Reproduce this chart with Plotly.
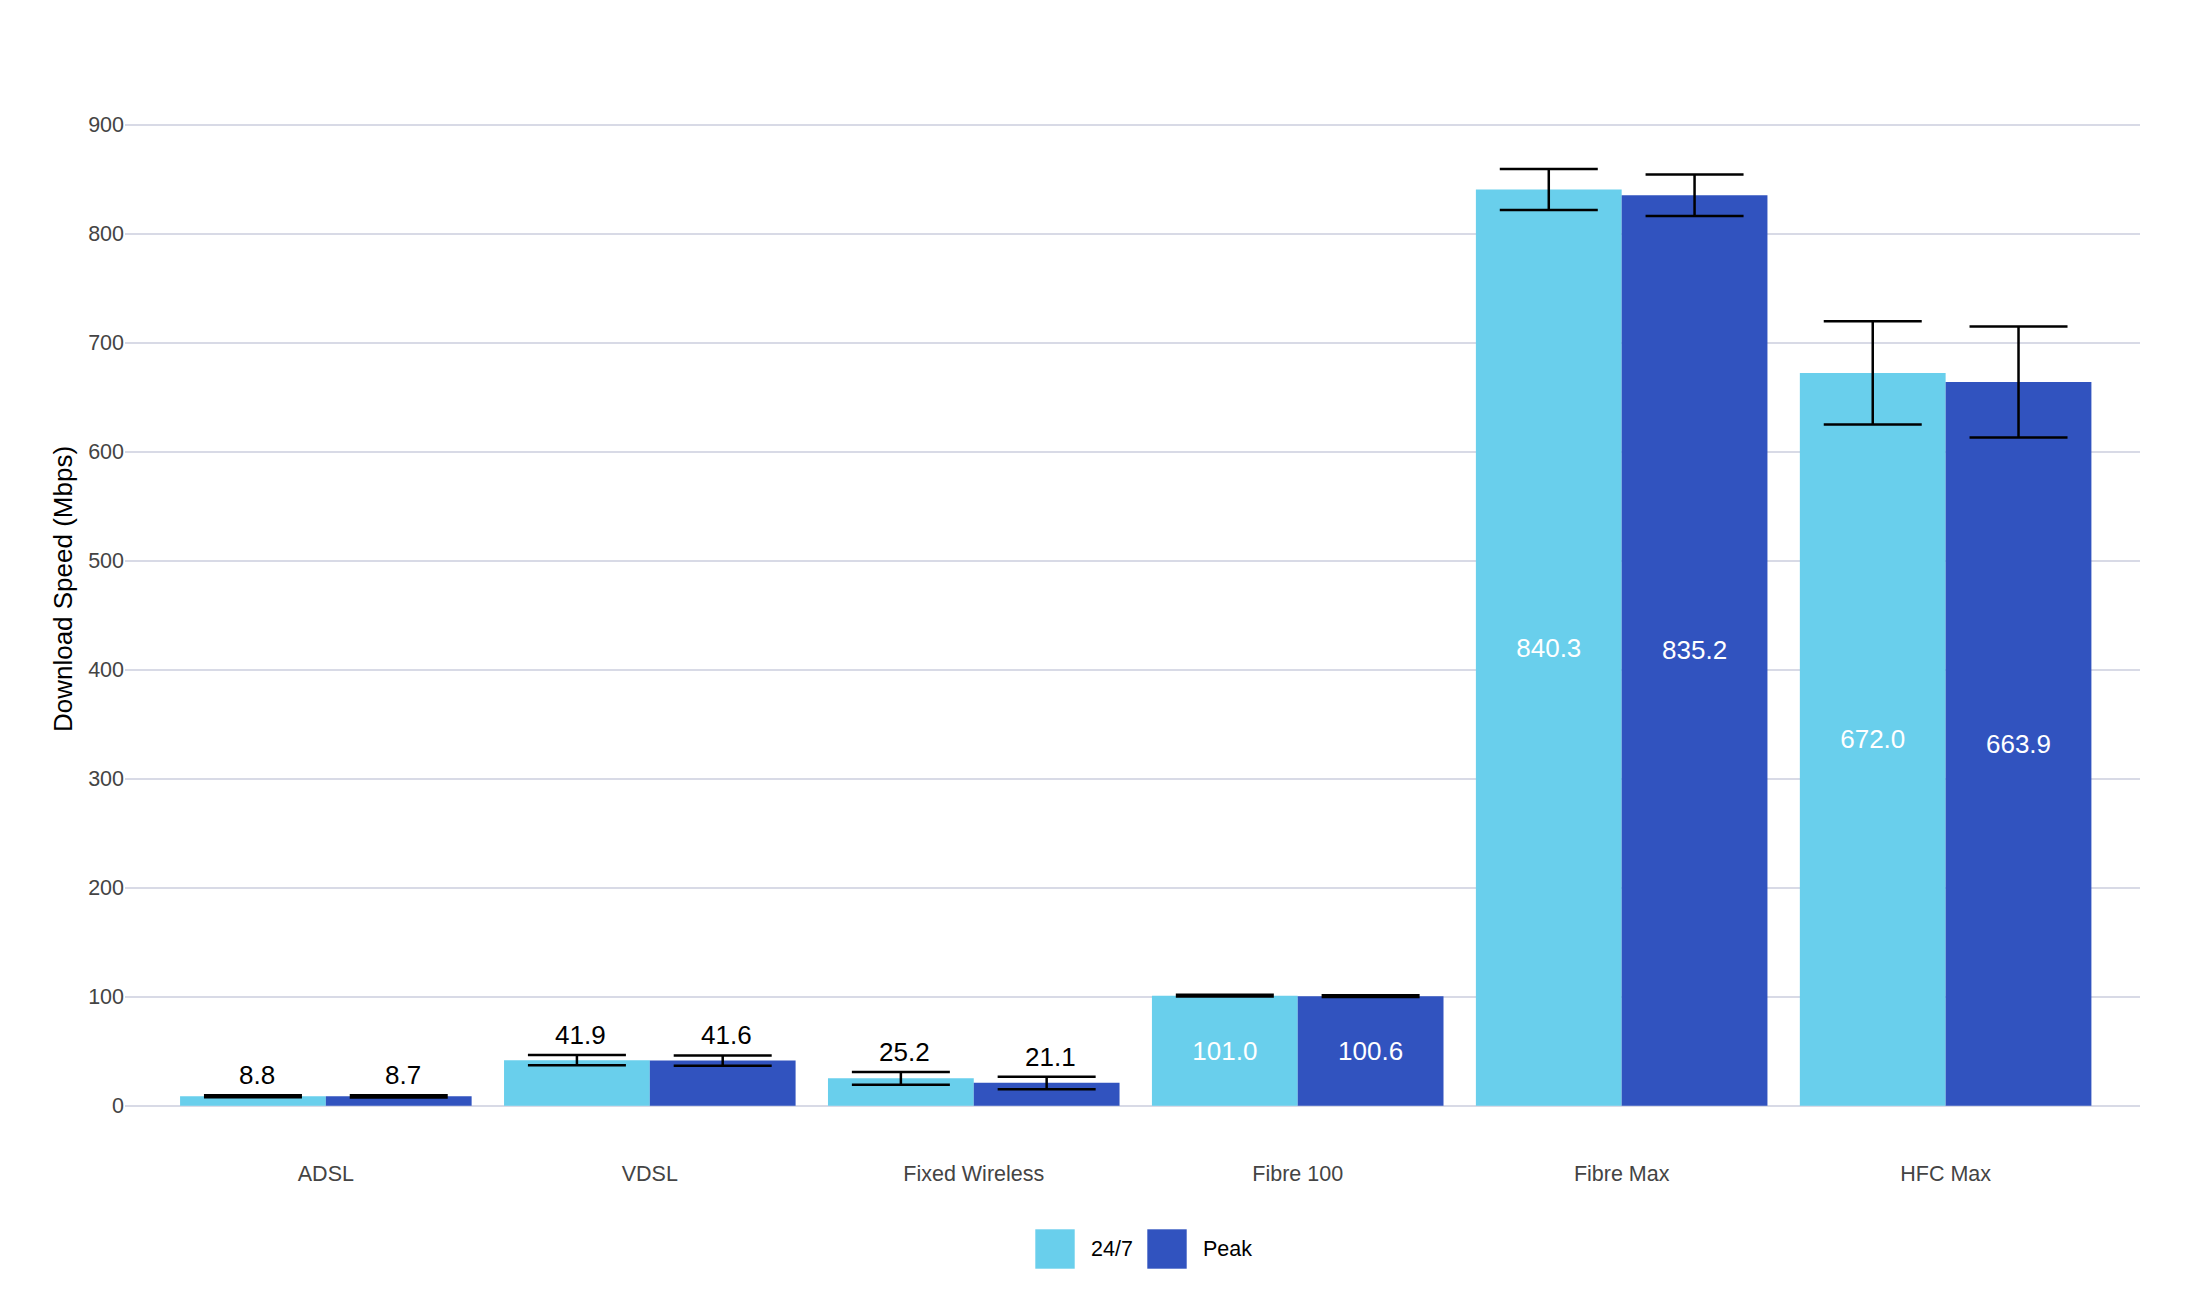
import plotly.graph_objects as go

categories = ["ADSL", "VDSL", "Fixed Wireless", "Fibre 100", "Fibre Max", "HFC Max"]
series_names = ["24/7", "Peak"]
values_247 = [8.8, 41.9, 25.2, 101.0, 840.3, 672.0]
values_peak = [8.7, 41.6, 21.1, 100.6, 835.2, 663.9]
err_up_247 = [1.0, 4.6, 5.8, 0.8, 18.8, 47.5]
err_down_247 = [1.0, 4.6, 5.9, 0.8, 18.8, 47.2]
err_up_peak = [1.0, 4.6, 5.5, 0.8, 18.9, 50.8]
err_down_peak = [1.0, 4.9, 5.8, 0.8, 19.2, 51.0]
y_ticks = [0, 100, 200, 300, 400, 500, 600, 700, 800, 900]

# styling / layout constants (page has an 8px body margin, compensated here)
W, H = 2210, 1300
M_L, M_R, M_T, M_B = 117, 78, 62, 200
X_RANGE = [-0.62, 5.6]
Y_RANGE = [-2, 950]
BARGAP = 0.1
INSIDE_MIN = 100  # labels for values at or above this go inside the bar
FONT = "Liberation Sans, Arial, Helvetica, sans-serif"
C_247 = "#69CFEC"
C_PEAK = "#3153BF"
GRID = "#D8DAE6"

series = [
    (series_names[0], values_247, err_up_247, err_down_247, C_247, -1),
    (series_names[1], values_peak, err_up_peak, err_down_peak, C_PEAK, 1),
]

plot_w = W - M_L - M_R
plot_h = H - M_T - M_B
step_px = plot_w / (X_RANGE[1] - X_RANGE[0])
bar_off_px = (1 - BARGAP) / 4 * step_px

fig = go.Figure()
annotations = []
for name, vals, eu, ed, color, side in series:
    inside_text = [f"{v:.1f}" if v >= INSIDE_MIN else "" for v in vals]
    fig.add_trace(go.Bar(
        name=name, x=categories, y=vals,
        marker=dict(color=color, line=dict(width=0)),
        text=inside_text, textposition="inside", insidetextanchor="middle",
        insidetextfont=dict(color="white", size=26, family=FONT),
        error_y=dict(type="data", array=eu, arrayminus=ed, visible=True,
                     color="black", thickness=2.5, width=49),
        showlegend=False,
    ))
    for c, v, u in zip(categories, vals, eu):
        if v < INSIDE_MIN:
            annotations.append(dict(
                x=c, y=v + u, xref="x", yref="y", text=f"{v:.1f}",
                showarrow=False, yanchor="bottom", xanchor="center",
                xshift=side * bar_off_px + 4, yshift=3,
                font=dict(size=26, color="black", family=FONT),
            ))

# legend (large square swatches), positions in figure pixels
def px_to_paper_x(px):
    return (px - M_L) / plot_w

def px_to_paper_y(py):
    return (H - M_B - py) / plot_h

SW = 40
LEG_TOP = 1221
legend_items = [(series_names[0], C_247, 1027), (series_names[1], C_PEAK, 1139)]
shapes = []
for name, color, x0 in legend_items:
    shapes.append(dict(
        type="rect", xref="paper", yref="paper",
        x0=px_to_paper_x(x0), x1=px_to_paper_x(x0 + SW),
        y0=px_to_paper_y(LEG_TOP + SW), y1=px_to_paper_y(LEG_TOP),
        fillcolor=color, line=dict(width=1, color="rgba(255,255,255,0.6)"),
    ))
    annotations.append(dict(
        x=px_to_paper_x(x0 + SW + 14), y=px_to_paper_y(LEG_TOP + SW / 2),
        xref="paper", yref="paper",
        text=name, showarrow=False, xanchor="left", yanchor="middle",
        font=dict(size=21.5, color="black", family=FONT),
    ))

fig.update_layout(
    width=W, height=H,
    margin=dict(l=M_L, r=M_R, t=M_T, b=M_B),
    paper_bgcolor="white", plot_bgcolor="white",
    barmode="group", bargap=BARGAP, bargroupgap=0,
    font=dict(family=FONT, size=21.5, color="#444"),
    annotations=annotations, shapes=shapes,
    showlegend=False,
)
fig.update_xaxes(
    range=X_RANGE, showgrid=False, showline=False, ticks="",
    tickfont=dict(size=21.5, color="#444", family=FONT),
    ticklabelstandoff=50,
)
fig.update_yaxes(
    range=Y_RANGE, tickvals=y_ticks, showgrid=True, gridcolor=GRID, gridwidth=2,
    zeroline=True, zerolinecolor=GRID, zerolinewidth=2, showline=False, ticks="",
    tickfont=dict(size=21.5, color="#444", family=FONT),
    title=dict(text="Download Speed (Mbps)", font=dict(size=26, color="black", family=FONT),
               standoff=8),
)

fig.write_html("out.html")
